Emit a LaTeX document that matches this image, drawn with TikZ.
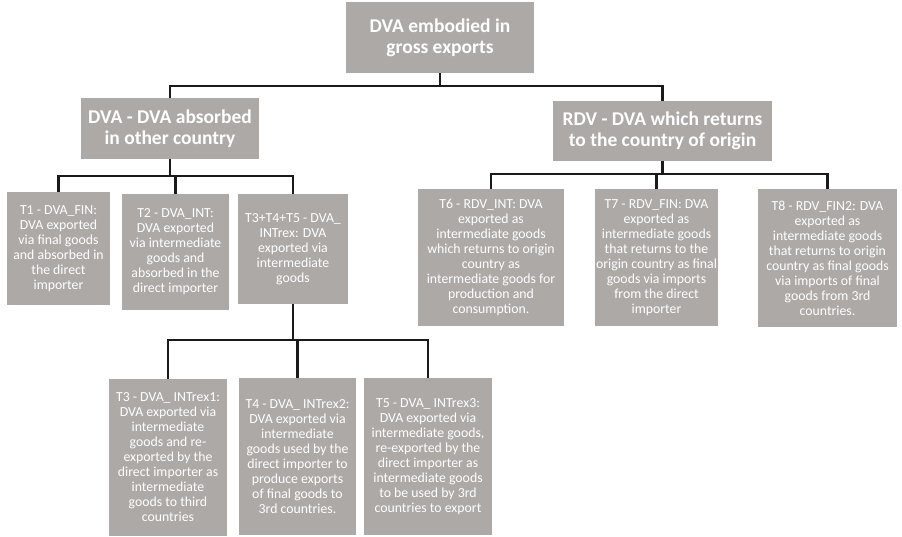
\documentclass[tikz,border=0pt]{standalone}
\usepackage{fontspec}
\setmainfont{Carlito}
\usetikzlibrary{calc}
\definecolor{boxgray}{RGB}{173, 169, 167}
\definecolor{linegray}{RGB}{26, 26, 26}

\begin{document}
\begin{tikzpicture}[x=1pt,y=-1pt]

\tikzstyle{top_block} = [fill=boxgray, text=white, align=center, inner sep=0, outer sep=0,
font=\fontsize{19.5}{21}\selectfont\bfseries]
\tikzstyle{leaf_block} = [fill=boxgray, text=white, align=center, inner sep=0, outer sep=0,
font=\fontsize{13.8}{15}\selectfont]
\tikzstyle{conn} = [draw=linegray, line width=2.2pt]

\useasboundingbox (0,0) rectangle (902,536);

% root and first level
\node [top_block, minimum width=188, minimum height=71] (root) at (440,37.5)
 {DVA embodied in\\ gross exports};
\node [top_block, minimum width=178, minimum height=61] (dva) at (170,128.5)
 {DVA - DVA absorbed\\ in other country};
\node [top_block, minimum width=219, minimum height=60] (rdv) at (662.5,131)
 {RDV - DVA which returns\\ to the country of origin};

% DVA branch
\node [leaf_block, minimum width=103, minimum height=113] (t1) at (58.5,248.5)
 {T1 - DVA\_FIN:\\ DVA exported\\ via final goods\\ and absorbed in\\ the direct\\ importer};
\node [leaf_block, minimum width=107, minimum height=116] (t2) at (175.5,252)
 {T2 - DVA\_INT:\\ DVA exported\\ via intermediate\\ goods and\\ absorbed in the\\ direct importer};
\node [leaf_block, minimum width=110, minimum height=110] (t345) at (293,249)
 {T3+T4+T5 - DVA\_\\ INTrex: DVA\\ exported via\\ intermediate\\ goods};

\node [leaf_block, minimum width=118, minimum height=157] (t3) at (168,457.5)
 {T3 - DVA\_ INTrex1:\\ DVA exported via\\ intermediate\\ goods and re-\\ exported by the\\ direct importer as\\ intermediate\\ goods to third\\ countries};
\node [leaf_block, minimum width=117, minimum height=157] (t4) at (297.5,456.5)
 {T4 - DVA\_ INTrex2:\\ DVA exported via\\ intermediate\\ goods used by the\\ direct importer to\\ produce exports\\ of final goods to\\ 3rd countries.};
\node [leaf_block, minimum width=128, minimum height=157] (t5) at (428,456.5)
 {T5 - DVA\_ INTrex3:\\ DVA exported via\\ intermediate goods,\\ re-exported by the\\ direct importer as\\ intermediate goods\\ to be used by 3rd\\ countries to export};

% RDV branch
\node [leaf_block, minimum width=146, minimum height=137] (t6) at (491,257.5)
 {T6 - RDV\_INT: DVA\\ exported as\\ intermediate goods\\ which returns to origin\\ country as\\ intermediate goods for\\ production and\\ consumption.};
\node [leaf_block, minimum width=123, minimum height=137] (t7) at (656.5,257.5)
 {T7 - RDV\_FIN: DVA\\ exported as\\ intermediate goods\\ that returns to the\\ origin country as final\\ goods via imports\\ from the direct\\ importer};
\node [leaf_block, minimum width=139, minimum height=138] (t8) at (827.5,258)
 {T8 - RDV\_FIN2: DVA\\ exported as\\ intermediate goods\\ that returns to origin\\ country as final goods\\ via imports of final\\ goods from 3rd\\ countries.};

% connectors
\draw[conn] (root.south) -- ++(0,13) -| (dva.north);
\draw[conn] (root.south) -- ++(0,13) -| (rdv.north);

\draw[conn] (dva.south) -- ++(0,17) -| (t1.north);
\draw[conn] (dva.south) -- ++(0,17) -| (t2.north);
\draw[conn] (dva.south) -- ++(0,17) -| (t345.north);

\draw[conn] (t345.south) -- ++(0,36) -| (t3.north);
\draw[conn] (t345.south) -- ++(0,36) -| (t4.north);
\draw[conn] (t345.south) -- ++(0,36) -| (t5.north);

\draw[conn] (rdv.south) -- ++(0,13) -| (t6.north);
\draw[conn] (rdv.south) -- ++(0,13) -| (t7.north);
\draw[conn] (rdv.south) -- ++(0,13) -| (t8.north);

\end{tikzpicture}
\end{document}
